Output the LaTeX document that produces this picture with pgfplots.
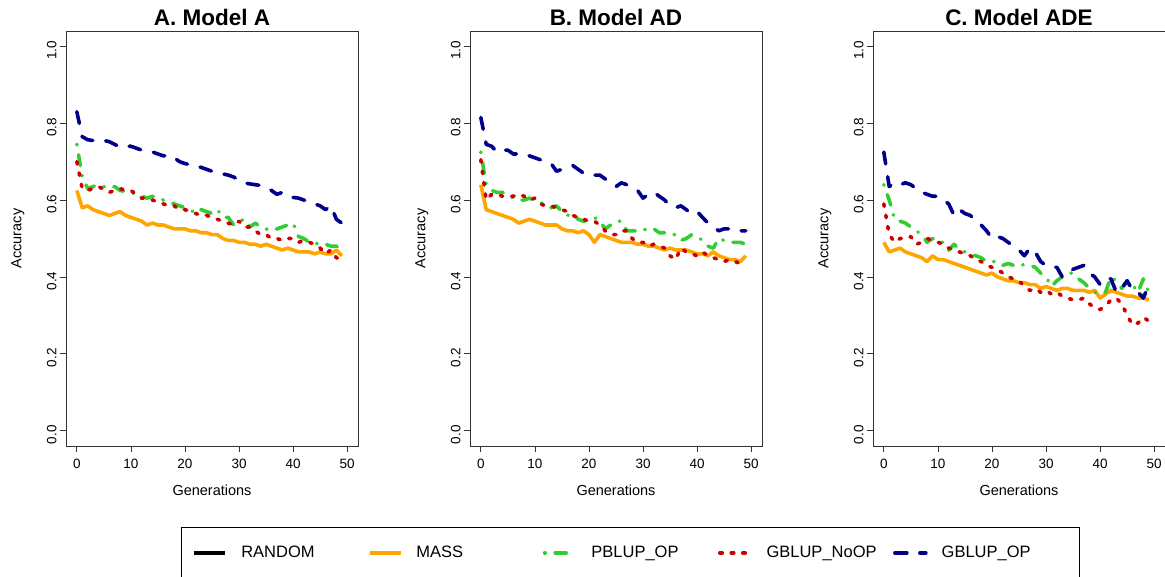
\documentclass[border=0pt]{standalone}
\usepackage{pgfplots}
\usepackage{pgfplotstable}
\usepackage{fontspec}
\setmainfont{Liberation Sans}
\pgfplotsset{compat=1.18}
\definecolor{cmass}{HTML}{FFA500}
\definecolor{cpblup}{HTML}{32CD32}
\definecolor{cnoop}{HTML}{CD0000}
\definecolor{cop}{HTML}{00008B}

% columns: g mass pblup noop gop
\pgfplotstableread{
g mass pblup noop gop
0 0.625 0.745 0.700 0.830
1 0.580 0.660 0.630 0.765
2 0.585 0.630 0.625 0.757
3 0.575 0.635 0.630 0.755
4 0.570 0.640 0.635 0.753
5 0.565 0.635 0.628 0.755
6 0.560 0.630 0.620 0.752
7 0.565 0.635 0.625 0.745
8 0.570 0.625 0.630 0.738
9 0.560 0.622 0.625 0.740
10 0.555 0.620 0.625 0.740
11 0.550 0.615 0.615 0.735
12 0.545 0.610 0.605 0.730
13 0.535 0.605 0.605 0.728
14 0.540 0.610 0.600 0.725
15 0.535 0.605 0.595 0.720
16 0.535 0.600 0.590 0.715
17 0.530 0.595 0.585 0.717
18 0.525 0.590 0.585 0.710
19 0.525 0.585 0.575 0.700
20 0.525 0.580 0.575 0.695
21 0.520 0.575 0.570 0.692
22 0.520 0.565 0.565 0.690
23 0.515 0.575 0.560 0.685
24 0.515 0.570 0.560 0.680
25 0.510 0.565 0.555 0.675
26 0.510 0.575 0.550 0.672
27 0.500 0.555 0.545 0.668
28 0.495 0.555 0.540 0.665
29 0.495 0.535 0.535 0.660
30 0.490 0.545 0.545 0.652
31 0.490 0.550 0.530 0.645
32 0.485 0.530 0.530 0.642
33 0.485 0.540 0.520 0.640
34 0.480 0.530 0.510 0.638
35 0.485 0.525 0.510 0.632
36 0.480 0.520 0.500 0.625
37 0.475 0.525 0.500 0.615
38 0.470 0.530 0.495 0.620
39 0.475 0.535 0.500 0.612
40 0.470 0.540 0.500 0.607
41 0.465 0.505 0.490 0.605
42 0.465 0.500 0.495 0.600
43 0.465 0.490 0.490 0.595
44 0.460 0.485 0.485 0.590
45 0.465 0.490 0.475 0.585
46 0.460 0.485 0.460 0.575
47 0.460 0.480 0.470 0.585
48 0.470 0.480 0.450 0.550
49 0.455 0.470 0.445 0.540
}\dataA

\pgfplotstableread{
g mass pblup noop gop
0 0.640 0.725 0.705 0.815
1 0.575 0.640 0.600 0.745
2 0.570 0.625 0.615 0.740
3 0.565 0.620 0.615 0.725
4 0.560 0.620 0.610 0.730
5 0.555 0.615 0.610 0.730
6 0.550 0.605 0.610 0.720
7 0.540 0.600 0.615 0.720
8 0.545 0.600 0.610 0.720
9 0.550 0.605 0.600 0.715
10 0.545 0.600 0.605 0.710
11 0.540 0.595 0.590 0.705
12 0.535 0.585 0.585 0.700
13 0.535 0.580 0.585 0.695
14 0.535 0.585 0.580 0.675
15 0.525 0.570 0.575 0.680
16 0.520 0.560 0.570 0.685
17 0.520 0.565 0.560 0.690
18 0.515 0.550 0.555 0.680
19 0.520 0.545 0.550 0.670
20 0.510 0.550 0.545 0.665
21 0.490 0.555 0.545 0.665
22 0.510 0.545 0.535 0.665
23 0.505 0.525 0.520 0.655
24 0.500 0.535 0.510 0.645
25 0.495 0.545 0.510 0.635
26 0.490 0.545 0.520 0.645
27 0.490 0.520 0.520 0.640
28 0.490 0.520 0.500 0.630
29 0.485 0.520 0.490 0.625
30 0.485 0.525 0.490 0.605
31 0.480 0.520 0.480 0.615
32 0.480 0.525 0.485 0.620
33 0.475 0.515 0.480 0.610
34 0.470 0.515 0.475 0.600
35 0.475 0.510 0.455 0.585
36 0.470 0.510 0.445 0.580
37 0.470 0.495 0.475 0.585
38 0.470 0.500 0.465 0.575
39 0.465 0.510 0.460 0.565
40 0.460 0.505 0.455 0.570
41 0.460 0.495 0.465 0.555
42 0.455 0.480 0.455 0.540
43 0.465 0.475 0.450 0.530
44 0.455 0.500 0.445 0.520
45 0.450 0.495 0.440 0.525
46 0.445 0.490 0.445 0.525
47 0.445 0.490 0.440 0.520
48 0.440 0.490 0.435 0.520
49 0.455 0.485 0.440 0.520
}\dataB

\pgfplotstableread{
g mass pblup noop gop
0 0.490 0.640 0.590 0.725
1 0.465 0.600 0.510 0.635
2 0.470 0.550 0.490 0.645
3 0.475 0.545 0.500 0.640
4 0.465 0.540 0.500 0.645
5 0.460 0.530 0.505 0.640
6 0.455 0.520 0.485 0.630
7 0.450 0.510 0.490 0.620
8 0.440 0.490 0.500 0.615
9 0.455 0.500 0.495 0.610
10 0.445 0.490 0.490 0.610
11 0.445 0.490 0.485 0.600
12 0.440 0.470 0.475 0.590
13 0.435 0.485 0.470 0.560
14 0.430 0.470 0.465 0.575
15 0.425 0.465 0.460 0.565
16 0.420 0.460 0.455 0.560
17 0.415 0.455 0.445 0.545
18 0.410 0.450 0.440 0.535
19 0.405 0.440 0.430 0.520
20 0.410 0.440 0.425 0.500
21 0.400 0.440 0.420 0.505
22 0.395 0.430 0.410 0.500
23 0.390 0.435 0.400 0.490
24 0.390 0.430 0.395 0.480
25 0.385 0.435 0.390 0.470
26 0.385 0.430 0.375 0.455
27 0.380 0.430 0.365 0.475
28 0.380 0.425 0.370 0.465
29 0.370 0.410 0.360 0.440
30 0.375 0.400 0.365 0.430
31 0.370 0.375 0.355 0.425
32 0.365 0.390 0.360 0.425
33 0.370 0.400 0.350 0.400
34 0.370 0.410 0.345 0.410
35 0.365 0.410 0.340 0.420
36 0.365 0.395 0.340 0.425
37 0.365 0.385 0.345 0.430
38 0.360 0.370 0.330 0.410
39 0.365 0.360 0.320 0.400
40 0.345 0.355 0.315 0.380
41 0.355 0.360 0.325 0.395
42 0.365 0.400 0.340 0.395
43 0.360 0.390 0.345 0.360
44 0.355 0.370 0.330 0.370
45 0.350 0.390 0.300 0.390
46 0.350 0.380 0.275 0.365
47 0.345 0.360 0.280 0.360
48 0.345 0.395 0.295 0.345
49 0.340 0.360 0.285 0.380
}\dataC

\pgfplotsset{
 panel/.style={
  width=292pt, height=415pt, scale only axis,
  xmin=-2, xmax=52, ymin=-0.04, ymax=1.04,
  xtick={0,10,20,30,40,50}, ytick={0,0.2,0.4,0.6,0.8,1},
  tick align=outside, major tick length=6pt,
  tick style={black!80, line width=0.7pt},
  axis line style={black!80, line width=0.8pt},
  xtick pos=bottom, ytick pos=left,
  /pgf/number format/assume math mode=true,
  ticklabel style={font=\fontsize{13.5}{14}\selectfont},
  xticklabel style={yshift=-4pt},
  yticklabel style={rotate=90, anchor=south, xshift=-4pt, /pgf/number format/.cd, fixed, fixed zerofill, precision=1},
  xlabel={Generations}, ylabel={Accuracy},
  label style={font=\fontsize{14.5}{16}\selectfont},
  xlabel style={at={(axis description cs:0.5,-0.108)}, anchor=center},
  ylabel style={at={(axis description cs:-0.165,0.5)}, anchor=center},
  title style={font=\bfseries\fontsize{22.5}{24}\selectfont, at={(0.5,1)}, anchor=center, yshift=8pt},
  legend image code/.code={\draw[#1] (0pt,0pt) -- (31pt,0pt);},
 },
 srandom/.style={black, solid, line width=3.6pt},
 smass/.style={cmass, solid, line width=3.6pt, line join=round},
 spblup/.style={cpblup, line width=3.6pt, line cap=round, line join=round, dash pattern=on 0.5pt off 10pt on 11pt off 10pt},
 snoop/.style={cnoop, line width=3.6pt, line cap=round, line join=round, dash pattern=on 2.5pt off 9pt},
 sop/.style={cop, line width=3.6pt, line cap=round, line join=round, dash pattern=on 12pt off 13pt},
}

\newcommand{\lent}[1]{\makebox[136.5pt][l]{\hspace{12pt}#1}}

\begin{document}
\begin{tikzpicture}
\useasboundingbox (0,0) rectangle (1165pt,577pt);

\begin{axis}[panel, at={(66pt,131pt)}, anchor=south west, title={A. Model A},
  legend columns=5,
  legend style={at={(1.933,-0.195)}, anchor=north, draw=black, line width=0.8pt,
    font=\fontsize{16.5}{18}\selectfont, inner xsep=11pt, inner ysep=17pt,
    /tikz/every even column/.append style={column sep=0pt}}]
\addlegendimage{srandom}
\addlegendentry{\lent{RANDOM}}
\addplot[smass] table[x=g,y=mass]{\dataA};
\addlegendentry{\lent{MASS}}
\addplot[spblup] table[x=g,y=pblup]{\dataA};
\addlegendentry{\lent{PBLUP\_OP}}
\addplot[snoop] table[x=g,y=noop]{\dataA};
\addlegendentry{\lent{GBLUP\_NoOP}}
\addplot[sop] table[x=g,y=gop]{\dataA};
\addlegendentry{\lent{GBLUP\_OP}}
\end{axis}

\begin{axis}[panel, at={(470pt,131pt)}, anchor=south west, title={B. Model AD}]
\addplot[smass] table[x=g,y=mass]{\dataB};
\addplot[spblup] table[x=g,y=pblup]{\dataB};
\addplot[snoop] table[x=g,y=noop]{\dataB};
\addplot[sop] table[x=g,y=gop]{\dataB};
\end{axis}

\begin{axis}[panel, at={(873pt,131pt)}, anchor=south west, title={C. Model ADE}]
\addplot[smass] table[x=g,y=mass]{\dataC};
\addplot[spblup] table[x=g,y=pblup]{\dataC};
\addplot[snoop] table[x=g,y=noop]{\dataC};
\addplot[sop] table[x=g,y=gop]{\dataC};
\end{axis}
\end{tikzpicture}
\end{document}
